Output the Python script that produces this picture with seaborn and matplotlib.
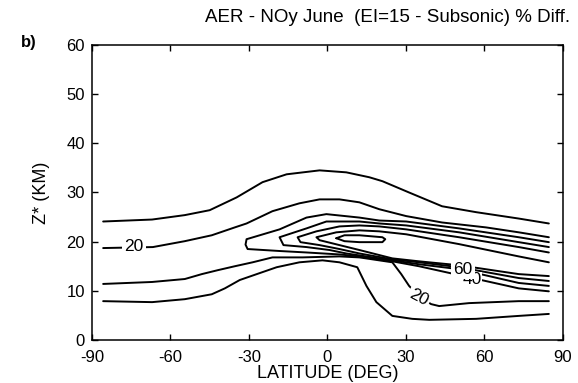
import matplotlib
matplotlib.use("Agg")
import matplotlib.pyplot as plt
import seaborn as sns
import pandas as pd

# Traced contour lines of the NOy % difference: latitude (deg) and altitude Z* (km)
c10_upper_lat = [-85.7, -67.0, -54.5, -45.0, -34.7, -24.8, -15.6, -3.0, 7.2, 16.0, 21.0, 31.2, 43.8, 56.8, 73.1, 84.6]
c10_upper_z = [24.1, 24.5, 25.4, 26.4, 29.0, 32.1, 33.7, 34.5, 34.1, 33.1, 32.3, 30.0, 27.2, 26.0, 24.7, 23.7]

c20_upper_lat = [-85.7, -66.7, -54.5, -44.2, -35.4, -30.9, -21.0, -10.7, -3.0, 4.6, 12.2, 19.8, 30.1, 43.8, 60.6, 73.1, 84.6]
c20_upper_z = [18.7, 18.9, 20.1, 21.3, 22.9, 23.7, 26.2, 27.8, 28.6, 28.6, 28.0, 26.6, 25.2, 23.9, 22.9, 21.9, 20.9]

c40_lat = [84.6, 73.1, 50.3, 30.1, 19.8, 12.2, -0.4, -8.0, -18.3, -30.9, -31.3, -30.5, -18.3, -8.0, 4.6, 12.2, 24.8, 35.0, 50.3, 73.1, 84.6]
c40_z = [19.9, 20.9, 22.7, 24.1, 24.3, 24.9, 25.6, 24.9, 22.5, 20.5, 19.4, 18.5, 18.1, 17.8, 17.4, 17.0, 16.0, 15.0, 13.2, 10.5, 9.9]

c60_lat = [84.6, 73.1, 50.3, 30.1, 19.8, 12.2, -0.4, -8.0, -18.3, -16.8, -8.0, 0.8, 7.2, 24.8, 35.0, 50.3, 73.1, 84.6]
c60_z = [18.9, 19.9, 21.9, 23.3, 23.7, 24.1, 24.1, 22.7, 20.9, 19.3, 18.9, 18.3, 17.6, 16.2, 15.4, 14.4, 11.6, 11.0]

c80_lat = [84.6, 73.1, 50.3, 30.1, 19.8, 12.2, 4.6, -4.2, -11.4, -10.3, -3.0, 4.6, 12.2, 24.8, 35.0, 50.3, 73.1, 84.6]
c80_z = [17.8, 18.9, 20.9, 22.5, 23.1, 23.3, 23.1, 22.1, 20.9, 19.9, 19.3, 18.5, 17.6, 16.4, 15.8, 14.8, 12.6, 12.0]

c100_lat = [84.6, 73.1, 50.3, 30.1, 19.8, 12.2, 3.4, -4.2, -3.0, 4.6, 12.2, 24.8, 35.0, 50.3, 73.1, 84.6]
c100_z = [15.8, 17.0, 19.5, 21.5, 22.1, 22.3, 21.9, 20.9, 20.3, 19.3, 18.3, 16.6, 16.0, 15.2, 13.4, 13.0]

c120_lat = [3.4, 6.5, 12.2, 21.0, 22.1, 21.0, 12.2, 6.5, 3.4]
c120_z = [20.7, 21.3, 21.3, 20.9, 20.5, 19.9, 19.9, 20.1, 20.7]

c20_lower_lat = [-85.7, -67.0, -54.5, -48.0, -41.9, -35.4, -28.6, -21.0, -9.5, 4.6, 12.2, 24.8, 28.2, 31.2, 35.0, 39.6, 42.7, 54.1, 73.1, 84.6]
c20_lower_z = [11.4, 11.8, 12.4, 13.4, 14.2, 15.0, 15.8, 16.8, 16.8, 17.0, 16.8, 15.8, 13.4, 11.0, 8.9, 7.3, 6.9, 7.5, 7.9, 7.9]

c10_lower_lat = [-85.7, -67.0, -54.5, -44.2, -39.2, -33.5, -27.0, -19.4, -10.7, -1.9, 4.6, 11.4, 14.9, 18.7, 24.8, 32.4, 38.9, 56.8, 73.1, 84.6]
c10_lower_z = [7.9, 7.7, 8.3, 9.3, 10.5, 12.2, 13.4, 14.8, 15.8, 16.2, 15.8, 14.8, 11.0, 7.7, 4.9, 4.3, 4.1, 4.3, 4.9, 5.3]

# Inline contour labels
label_text = ["20", "20", "40", "60"]
label_lat = [-73.9, 35.0, 55.2, 51.8]
label_z = [19.1, 8.7, 12.3, 14.4]
label_rot = [0, -28, 0, 0]

x_ticks = [-90, -60, -30, 0, 30, 60, 90]
y_ticks = [0, 10, 20, 30, 40, 50, 60]

contours = {
    "c10_upper": (c10_upper_lat, c10_upper_z),
    "c20_upper": (c20_upper_lat, c20_upper_z),
    "c40": (c40_lat, c40_z),
    "c60": (c60_lat, c60_z),
    "c80": (c80_lat, c80_z),
    "c100": (c100_lat, c100_z),
    "c120": (c120_lat, c120_z),
    "c20_lower": (c20_lower_lat, c20_lower_z),
    "c10_lower": (c10_lower_lat, c10_lower_z),
}

rows = []
for name, (lats, zs) in contours.items():
    for la, z in zip(lats, zs):
        rows.append((name, la, z))
df = pd.DataFrame(rows, columns=["line", "lat", "z"])

sns.set_theme(style="ticks")
plt.rcParams["font.family"] = ["Liberation Sans", "DejaVu Sans"]
plt.rcParams.update({
    "axes.unicode_minus": False,
    "xtick.direction": "in", "ytick.direction": "in",
    "xtick.top": True, "ytick.right": True,
    "xtick.major.size": 4, "ytick.major.size": 4,
    "xtick.major.width": 1.0, "ytick.major.width": 1.0,
    "axes.linewidth": 1.1, "axes.edgecolor": "black",
    "xtick.color": "black", "ytick.color": "black",
    "text.color": "black", "axes.labelcolor": "black",
})

fig = plt.figure(figsize=(5.78, 3.83), dpi=100)
ax = fig.add_axes([0.159, 0.1123, 0.815, 0.7702])

sns.lineplot(data=df, x="lat", y="z", units="line", estimator=None, sort=False,
             color="black", linewidth=1.4, ax=ax, legend=False)

for i, (s, la, z, r) in enumerate(zip(label_text, label_lat, label_z, label_rot)):
    box = dict(facecolor="white", edgecolor="none", pad=1.5 if i != 2 else 0.0)
    ax.text(la, z, s, ha="center", va="center", fontsize=12.5, rotation=r,
            bbox=box, zorder=3 + i)

ax.set_xlim(-90, 90)
ax.set_ylim(0, 60)
ax.set_xticks(x_ticks)
ax.set_yticks(y_ticks)
ax.tick_params(axis="x", labelsize=12, pad=7)
ax.tick_params(axis="y", labelsize=12, pad=5)
ax.set_xlabel("LATITUDE (DEG)", fontsize=13, labelpad=0)
ax.set_ylabel("Z* (KM)", fontsize=13, labelpad=12)

fig.text(0.355, 0.9426, "AER - NOy June  (EI=15 - Subsonic) % Diff.",
         ha="left", va="baseline", fontsize=13.5)
fig.text(0.036, 0.878, "b)", ha="left", va="baseline", fontsize=12, fontweight="bold")

fig.savefig("out.png", dpi=100)
